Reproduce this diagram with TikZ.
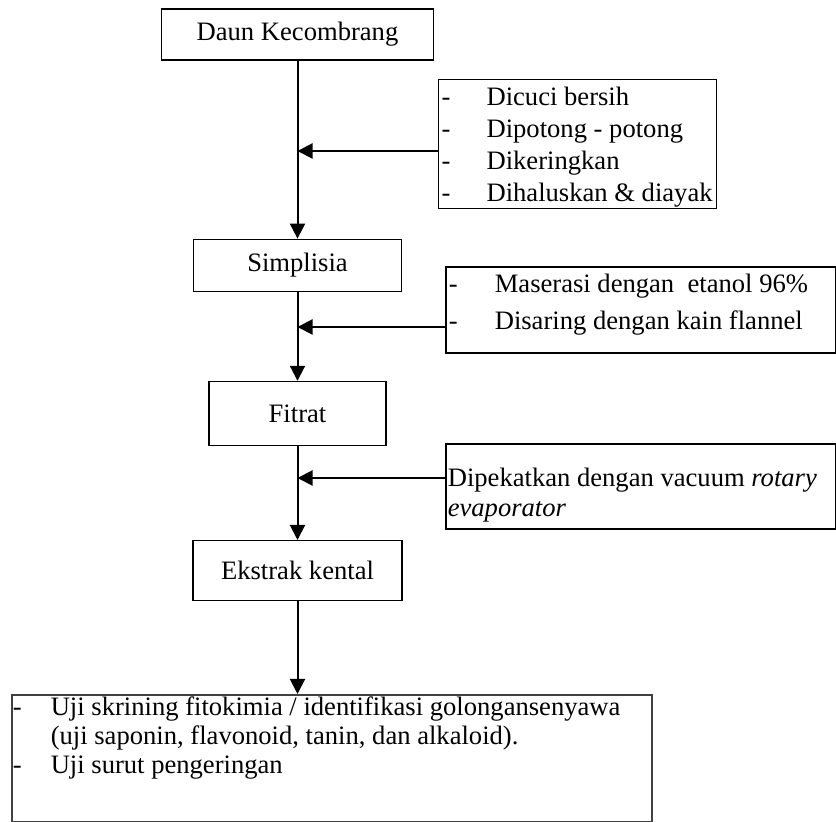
\documentclass[tikz,border=0pt]{standalone}
\usepackage{fontspec}
\setmainfont{Liberation Serif}
\usepackage{tikz}
\usetikzlibrary{calc}
\usetikzlibrary{positioning}
\usetikzlibrary{arrows.meta}

\begin{document}
\begin{tikzpicture}[x=0.5pt, y=-0.5pt]
  \tikzset{myedge/.style={-{Triangle[length=7.5pt,width=7.5pt]}, line width=1pt}}
  \tikzset{mybox/.style={rectangle, draw=black, line width=0.6pt, inner sep=0pt, font=\fontsize{13.3}{16}\selectfont}}
  \tikzset{myside/.style={mybox, anchor=north west, align=left, inner xsep=1.5pt, inner ysep=0pt}}

  \useasboundingbox (0,0) rectangle (836,822);

  \node[mybox, minimum width=136pt, minimum height=25.5pt] (daun) at (297.5,34.5) {Daun Kecombrang};
  \node[mybox, minimum width=104pt, minimum height=26pt, below=89pt of daun] (simplisia) {Simplisia};
  \node[mybox, minimum width=88.5pt, minimum height=32pt, below=44.5pt of simplisia] (fitrat) {Fitrat};
  \node[mybox, minimum width=104.5pt, minimum height=30pt, below=47pt of fitrat] (ekstrak) {Ekstrak kental};

  \node[myside] (cuci) at (438,79)
    {\parbox[c][64.5pt][t]{136pt}{\vspace*{3.5pt}%
     \makebox[22.5pt][l]{-}\mbox{Dicuci bersih}\\
     \makebox[22.5pt][l]{-}\mbox{Dipotong - potong}\\
     \makebox[22.5pt][l]{-}\mbox{Dikeringkan}\\
     \makebox[22.5pt][l]{-}\mbox{Dihaluskan \& diayak}}};
  \node[myside, line width=0.8pt] (saring) at (445,266)
    {\parbox[c][43pt][t]{192pt}{\vspace*{3.5pt}%
     \makebox[23pt][l]{-}Maserasi dengan\ \ etanol 96\%\\[2.5pt]
     \makebox[23pt][l]{-}Disaring dengan kain flannel}};
  \node[myside, line width=0.8pt, inner xsep=1pt] (pekat) at (445,443)
    {\parbox[c][42.5pt][t]{193pt}{\vspace*{12pt}%
     Dipekatkan dengan vacuum \textit{rotary}\\[-1pt]
     \textit{evaporator}}};
  \node[myside, draw=black!75, line width=0.8pt, inner xsep=0.5pt] (uji) at (11,694)
    {\parbox[c][63.5pt][t]{319pt}{\fontsize{13.3}{14.5}\selectfont\vspace*{1pt}%
     \makebox[19pt][l]{-}\mbox{Uji skrining fitokimia / identifikasi golongansenyawa}\\
     \hspace*{19pt}(uji saponin, flavonoid, tanin, dan alkaloid).\\
     \makebox[19pt][l]{-}Uji surut pengeringan}};

  \coordinate (p1) at (0,151);
  \coordinate (p2) at (0,327);
  \coordinate (p3) at (0,478);

  \draw [myedge] (daun) -- (simplisia);
  \draw [myedge] (simplisia) -- (fitrat);
  \draw [myedge] (fitrat) -- (ekstrak);
  \draw [myedge] (ekstrak) -- (ekstrak.south |- uji.north);

  \draw [myedge] (p1 -| cuci.west) -- (p1 -| daun.south);
  \draw [myedge] (p2 -| saring.west) -- (p2 -| simplisia.south);
  \draw [myedge] (p3 -| pekat.west) -- (p3 -| fitrat.south);

\end{tikzpicture}
\end{document}
